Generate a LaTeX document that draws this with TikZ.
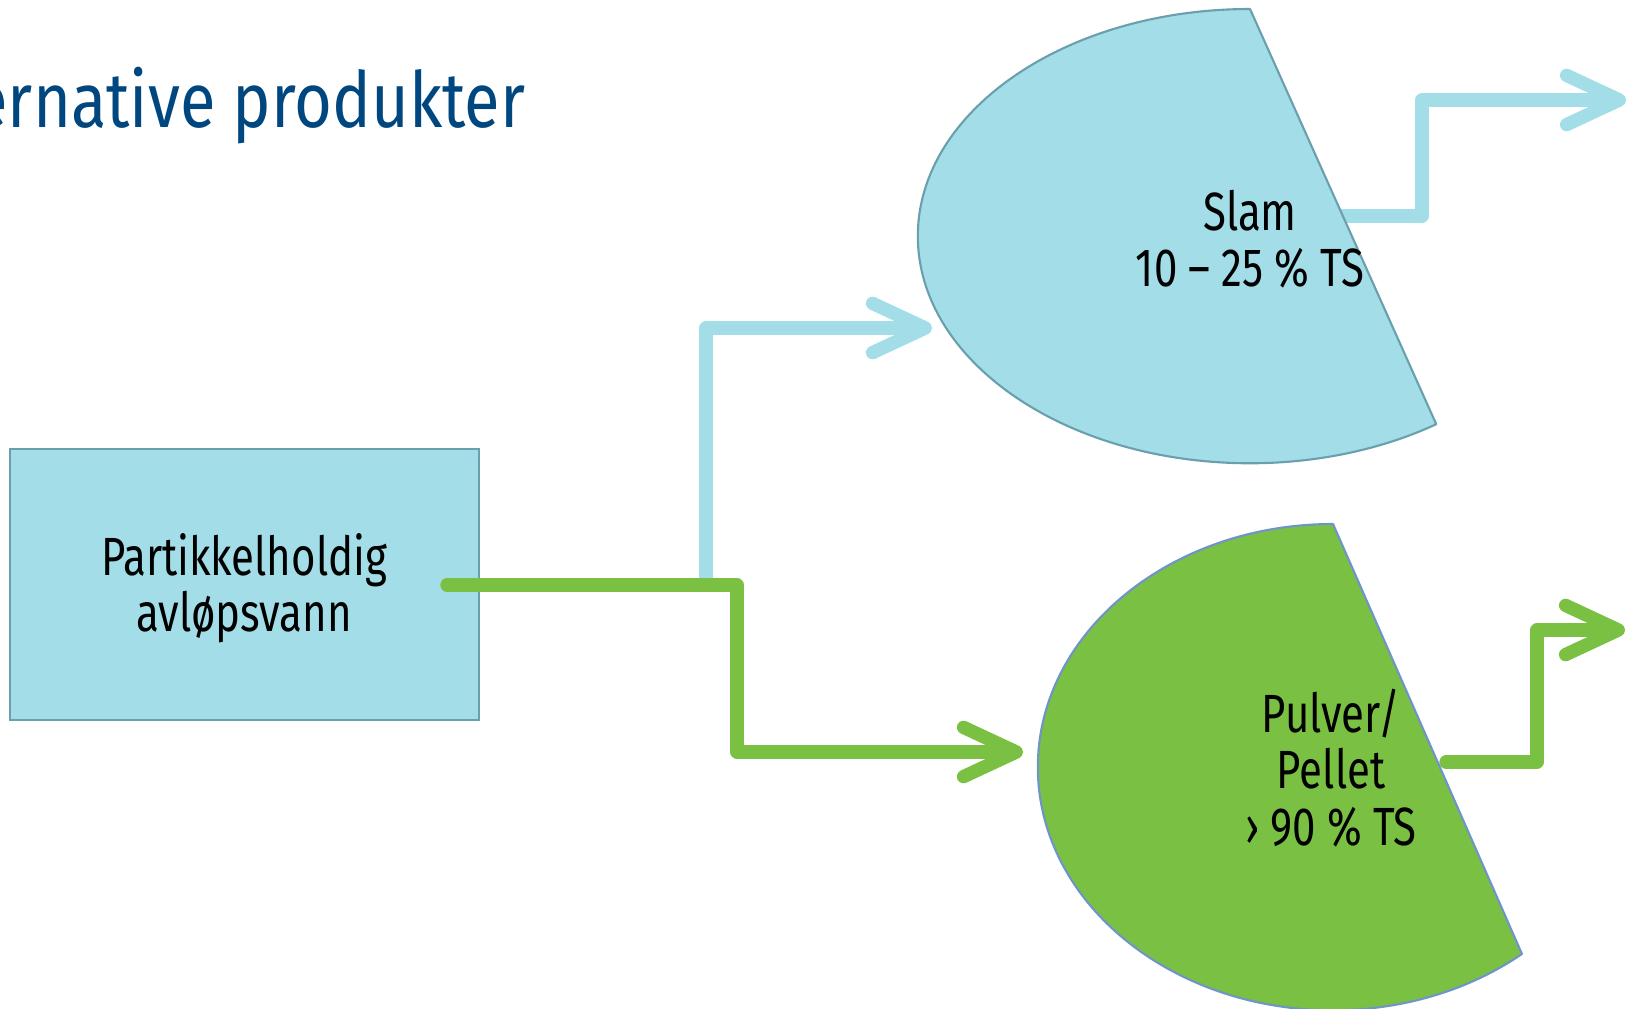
\documentclass[tikz,border=0pt]{standalone}
\usepackage{fontspec}
\setmainfont{Fira Sans}[FakeStretch=0.78]
\newfontfamily\titlefont{Fira Sans}[FakeStretch=0.84]
\usetikzlibrary{arrows.meta}
\definecolor{lblue}{HTML}{A2DDE8}
\definecolor{lblueedge}{HTML}{6A9FAD}
\definecolor{lgreen}{HTML}{7AC143}
\definecolor{lgreenedge}{HTML}{6E94C8}
\definecolor{titleblue}{HTML}{00467F}
\begin{document}
\begin{tikzpicture}[x=0.01cm,y=0.01cm,
  flow/.style={line width=3.8pt, line cap=round, line join=round,
    -{Straight Barb[length=15pt,width=14pt,round]}},
  lbl/.style={align=center, font=\fontsize{15.3}{16}\selectfont, inner sep=0pt, text=black},
  box/.style={draw=lblueedge, line width=0.6pt, fill=lblue, minimum width=4.69cm, minimum height=2.71cm, inner sep=0pt}]
\useasboundingbox (0,0) rectangle (1637,1008);

% title
\node[anchor=base east, inner sep=0pt, text=titleblue, font=\titlefont\fontsize{22}{24}\selectfont] (title) at (526,880) {ernative produkter};

% source box
\node[box] (src) at (244.5,423.5) {};
\node[lbl] (srctxt) at (244,420) {Partikkelholdig\\avløpsvann};

% connector coordinates
\coordinate (gs) at (447,423);
\coordinate (gbend) at (737,423);
\coordinate (gtip) at (1023,256);
\coordinate (bs) at (706,428);
\coordinate (btip) at (932,680);
\coordinate (bos) at (1342,792);
\coordinate (bobend) at (1422,792);
\coordinate (botip) at (1626,908);
\coordinate (gos) at (1446,246);
\coordinate (gobend) at (1537,246);
\coordinate (gotip) at (1625,378);

% connectors
\draw[flow, draw=lblue] (bs) |- (btip);
\draw[flow, draw=lgreen] (gs) -- (gbend) |- (gtip);
\draw[flow, draw=lblue] (bos) -- (bobend) |- (botip);
\draw[flow, draw=lgreen] (gos) -- (gobend) |- (gotip);

% product shapes
\draw[fill=lblue, draw=lblueedge, line width=0.6pt, line join=round]
  (1250,999) arc[start angle=90, end angle=304.1, x radius=3.32cm, y radius=2.27cm] -- cycle;
\draw[fill=lgreen, draw=lgreenedge, line width=0.6pt, line join=round]
  (1333,484) arc[start angle=90, end angle=309.8, x radius=2.95cm, y radius=2.43cm] -- cycle;

\node[lbl] (slam) at (1250,769) {Slam\\10 – 25 \% TS};
\node[lbl] (pulver) at (1331,240) {Pulver/\\Pellet\\› 90 \% TS};
\end{tikzpicture}
\end{document}
